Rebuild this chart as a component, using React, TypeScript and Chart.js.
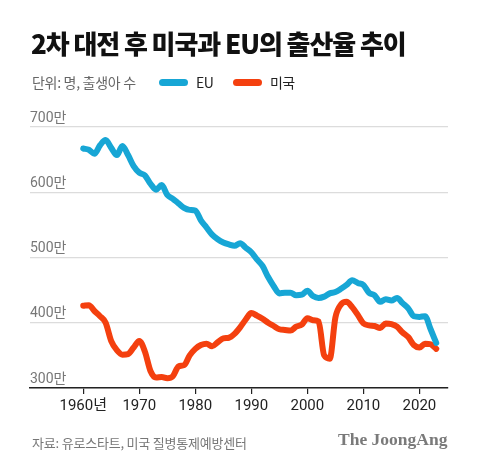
import React, { useEffect, useRef } from 'react';
import { Chart, registerables } from 'chart.js';

Chart.register(...registerables);

const years = [
  1960, 1961, 1962, 1963, 1964, 1965, 1966, 1967, 1968, 1969,
  1970, 1971, 1972, 1973, 1974, 1975, 1976, 1977, 1978, 1979,
  1980, 1981, 1982, 1983, 1984, 1985, 1986, 1987, 1988, 1989,
  1990, 1991, 1992, 1993, 1994, 1995, 1996, 1997, 1998, 1999,
  2000, 2001, 2002, 2003, 2004, 2005, 2006, 2007, 2008, 2009,
  2010, 2011, 2012, 2013, 2014, 2015, 2016, 2017, 2018, 2019,
  2020, 2021, 2022, 2023,
];

// 출생아 수 (만 명)
const euBirths = [
  667, 665, 659, 672, 680, 668, 657, 671, 657, 640,
  630, 626, 613, 604, 611, 596, 590, 583, 576, 573,
  572, 557, 546, 535, 528, 523, 520, 518, 522, 515,
  508, 497, 487, 470, 456, 445, 446, 446, 442, 443,
  449, 441, 438, 440, 445, 447, 452, 458, 465, 461,
  458, 446, 442, 432, 436, 434, 438, 430, 422, 410,
  409, 410, 390, 369,
];

const usBirths = [
  426, 427, 418, 410, 400, 372, 358, 351, 352, 362,
  372, 356, 326, 316, 317, 315, 318, 333, 335, 350,
  360, 366, 368, 364, 370, 376, 377, 383, 393, 405,
  415, 411, 406, 400, 395, 390, 389, 388, 394, 397,
  407, 404, 402, 350, 345, 408, 428, 432, 424, 412,
  399, 396, 395, 392, 399, 398, 394, 385, 378, 366,
  362, 368, 367, 360,
];

const xTickYears = [1960, 1970, 1980, 1990, 2000, 2010, 2020];
const yTickValues = [300, 400, 500, 600, 700];
const seriesNames = ['EU', '미국'];
const seriesColors = ['#17a6d5', '#f4400f'];

const TITLE = '2차 대전 후 미국과 EU의 출산율 추이';
const UNIT = '단위: 명, 출생아 수';
const SOURCE = '자료: 유로스타트, 미국 질병통제예방센터';
const BRAND = 'The JoongAng';

const FONT = "Roboto, 'Noto Sans CJK KR', sans-serif";
const KFONT = "'Noto Sans CJK KR', Roboto, sans-serif";

export default function App() {
  const canvasRef = useRef<HTMLCanvasElement>(null);

  useEffect(() => {
    const canvas = canvasRef.current;
    if (!canvas) return;
    const series = [euBirths, usBirths];
    const chart = new Chart(canvas, {
      type: 'line',
      data: {
        datasets: series.map((vals, i) => ({
          label: seriesNames[i],
          data: years.map((yr, j) => ({ x: yr, y: vals[j] })),
          borderColor: seriesColors[i],
          backgroundColor: seriesColors[i],
          borderWidth: 6,
          pointRadius: 0,
          borderCapStyle: 'round',
          borderJoinStyle: 'round',
          cubicInterpolationMode: 'monotone',
          fill: false,
          clip: false,
        })),
      },
      options: {
        animation: false,
        responsive: false,
        maintainAspectRatio: false,
        layout: { padding: { top: 127, left: 30, right: 32, bottom: 56 } },
        plugins: {
          legend: { display: false },
          title: { display: false },
          tooltip: { enabled: false },
        },
        scales: {
          x: {
            type: 'linear',
            min: 1950.5,
            max: 2025.1,
            afterBuildTicks: (scale: any) => {
              scale.ticks = xTickYears.map((v) => ({ value: v }));
            },
            ticks: {
              autoSkip: false,
              maxRotation: 0,
              padding: 3,
              color: '#222',
              font: { family: FONT, size: 15 },
              callback: (v: any) => (v === xTickYears[0] ? `${v}년` : String(v)),
            },
            grid: {
              drawOnChartArea: false,
              drawTicks: true,
              tickLength: 6,
              color: '#222',
              lineWidth: 1.2,
            },
            border: { display: true, color: '#222', width: 1.5 },
          },
          y: {
            min: 300,
            max: 700,
            afterBuildTicks: (scale: any) => {
              scale.ticks = yTickValues.map((v) => ({ value: v }));
            },
            ticks: {
              mirror: true,
              padding: 0,
              labelOffset: -9,
              color: '#777',
              font: { family: FONT, size: 14 },
              callback: (v: any) => `${v}만`,
            },
            grid: { color: '#dcdcdc', lineWidth: 1.2, drawTicks: false },
            border: { display: false },
          },
        },
      },
    });
    return () => chart.destroy();
  }, []);

  return (
    <div
      style={{
        position: 'fixed',
        left: 0,
        top: 0,
        width: 480,
        height: 474,
        background: '#fff',
        overflow: 'hidden',
      }}
    >
      <canvas
        ref={canvasRef}
        width={480}
        height={474}
        style={{ position: 'absolute', left: 0, top: 0, width: 480, height: 474 }}
      />
      <div
        style={{
          position: 'absolute',
          left: 31,
          top: 30,
          fontFamily: KFONT,
          fontWeight: 900,
          fontSize: 26,
          lineHeight: '26px',
          letterSpacing: '-1.1px',
          color: '#111',
          whiteSpace: 'nowrap',
        }}
      >
        {TITLE}
      </div>
      <div
        style={{
          position: 'absolute',
          left: 32,
          top: 75,
          fontFamily: KFONT,
          fontSize: 14,
          lineHeight: '14px',
          letterSpacing: '-0.3px',
          color: '#666',
          whiteSpace: 'nowrap',
        }}
      >
        {UNIT}
      </div>
      {seriesNames.map((name, i) => (
        <div
          key={name}
          style={{
            position: 'absolute',
            left: i === 0 ? 159 : 233,
            top: 75,
            display: 'flex',
            alignItems: 'center',
            height: 14,
            whiteSpace: 'nowrap',
          }}
        >
          <span
            style={{
              display: 'inline-block',
              width: 29,
              height: 7,
              borderRadius: 4,
              background: seriesColors[i],
              marginRight: 8,
            }}
          />
          <span
            style={{
              fontFamily: KFONT,
              fontSize: 14,
              lineHeight: '14px',
              letterSpacing: '-0.6px',
              color: '#222',
            }}
          >
            {name}
          </span>
        </div>
      ))}
      <div
        style={{
          position: 'absolute',
          left: 32,
          top: 436,
          fontFamily: KFONT,
          fontSize: 13,
          lineHeight: '13px',
          letterSpacing: '-0.2px',
          color: '#777',
          whiteSpace: 'nowrap',
        }}
      >
        {SOURCE}
      </div>
      <div
        style={{
          position: 'absolute',
          left: 338,
          top: 431,
          fontFamily: "'Liberation Serif', 'DejaVu Serif', serif",
          fontWeight: 700,
          fontSize: 17.5,
          lineHeight: '17px',
          color: '#7a7a7a',
          whiteSpace: 'nowrap',
        }}
      >
        {BRAND}
      </div>
    </div>
  );
}
